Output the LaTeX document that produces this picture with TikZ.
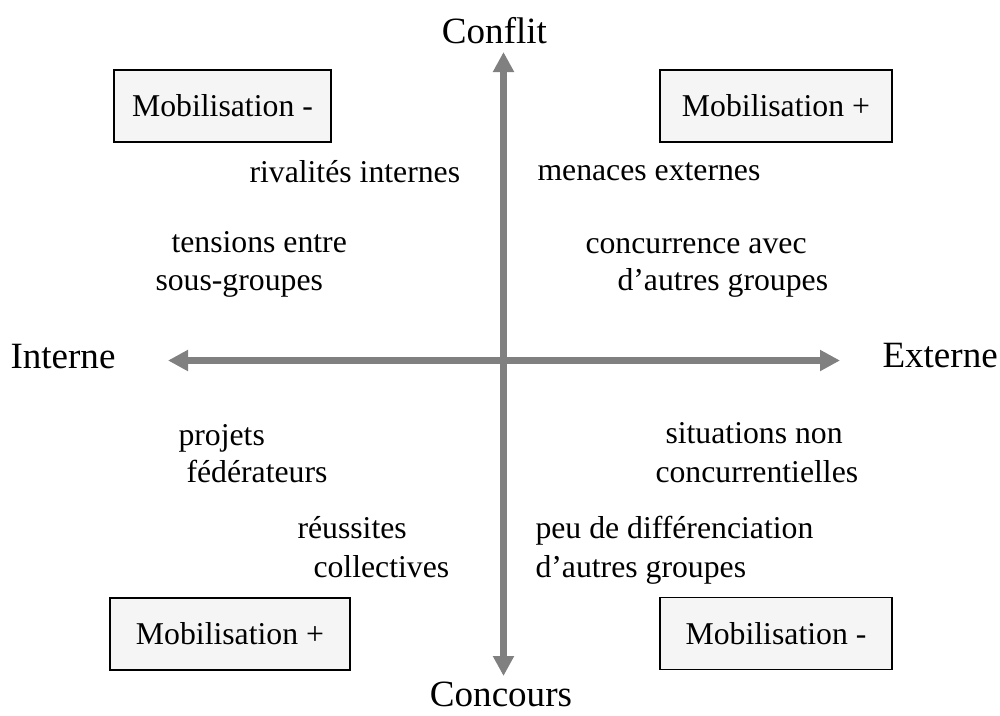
\documentclass[tikz,border=0pt]{standalone}
\usepackage{fontspec}
\setmainfont{Liberation Serif}
\usetikzlibrary{arrows.meta}

\definecolor{axisgray}{RGB}{128,128,128}
\definecolor{boxfill}{RGB}{245,245,245}

\tikzset{every picture/.style={line width=0.75pt}}
\tikzset{
  axe/.style={draw=axisgray, line width=5pt, {Triangle[width=15pt,length=15pt]}-{Triangle[width=15pt,length=15pt]}},
  mobbox/.style={draw, fill=boxfill, line width=1.1pt, minimum height=54pt, inner sep=0pt, font=\fontsize{23.8}{28}\selectfont},
  motif/.style={anchor=base west, inner sep=0pt, font=\fontsize{23.8}{28}\selectfont},
  pole/.style={inner sep=0pt, font=\fontsize{27.8}{33}\selectfont}
}

\begin{document}
\begin{tikzpicture}[x=0.75pt,y=0.75pt,yscale=-1,xscale=1]
\path[use as bounding box] (0,0) rectangle (1000,715);

%Axis ends
\coordinate (haut) at (503.5,52);
\coordinate (bas) at (503.5,676);
\coordinate (gauche) at (168,360.5);
\coordinate (droite) at (840,360.5);

%Straight Lines
\draw [axe] (bas) -- (haut) ;
%Straight Lines
\draw [axe] (gauche) -- (droite) ;

% Text Node
\node [pole, anchor=base] (conflit) at (494.5,43) {Conflit};
% Text Node
\node [pole, anchor=base] (concours) at (501,706) {Concours};
% Text Node
\node [pole, anchor=base west] (interne) at (10,368) {Interne};
% Text Node
\node [pole, anchor=base west] (externe) at (882,367) {Externe};

% Boxes
\node [mobbox, minimum width=162.75pt] (mobHG) at (222.5,106) {Mobilisation -};
\node [mobbox, minimum width=174pt] (mobHD) at (776,106) {Mobilisation +};
\node [mobbox, minimum width=180pt] (mobBG) at (230,634) {Mobilisation +};
\node [mobbox, minimum width=174pt] (mobBD) at (776,633.5) {Mobilisation -};

% Text Node
\node [motif] (rivalites) at (249,182) {rivalités internes};
% Text Node
\node [motif] (tensions) at (171,252) {tensions entre};
% Text Node
\node [motif] (sousgroupes) at (155,290) {sous-groupes};
% Text Node
\node [motif] (menaces) at (537,180) {menaces externes};
% Text Node
\node [motif] (concurrence) at (585,253) {concurrence avec};
% Text Node
\node [motif] (autresHD) at (617,290) {d’autres groupes};
% Text Node
\node [motif] (projets) at (178,445) {projets};
% Text Node
\node [motif] (federateurs) at (186,482) {fédérateurs};
% Text Node
\node [motif] (reussites) at (297,538) {réussites};
% Text Node
\node [motif] (collectives) at (313,577) {collectives};
% Text Node
\node [motif] (situations) at (665,443) {situations non};
% Text Node
\node [motif] (concurrentielles) at (655,482) {concurrentielles};
% Text Node
\node [motif] (differenciation) at (535,538) {peu de différenciation};
% Text Node
\node [motif] (autresBD) at (535,577) {d’autres groupes};

\end{tikzpicture}
\end{document}
